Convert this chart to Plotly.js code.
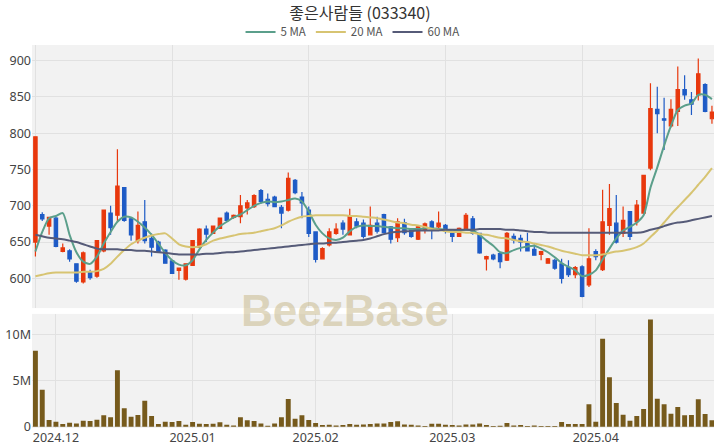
<!DOCTYPE html>
<html>
<head>
<meta charset="utf-8">
<script src="https://cdn.plot.ly/plotly-3.0.1.min.js"></script>
<style>html,body{margin:0;padding:0;background:#fff;}#chart{width:720px;height:448px;}</style>
</head>
<body>
<div id="chart"></div>
<script>
const dates = [
'2024-11-27','2024-11-28','2024-11-29',
'2024-12-02','2024-12-03','2024-12-04','2024-12-05','2024-12-06','2024-12-09','2024-12-10','2024-12-11','2024-12-12','2024-12-13','2024-12-16','2024-12-17','2024-12-18','2024-12-19','2024-12-20','2024-12-23','2024-12-24','2024-12-26','2024-12-27','2024-12-30',
'2025-01-02','2025-01-03','2025-01-06','2025-01-07','2025-01-08','2025-01-09','2025-01-10','2025-01-13','2025-01-14','2025-01-15','2025-01-16','2025-01-17','2025-01-20','2025-01-21','2025-01-22','2025-01-23','2025-01-24','2025-01-31',
'2025-02-03','2025-02-04','2025-02-05','2025-02-06','2025-02-07','2025-02-10','2025-02-11','2025-02-12','2025-02-13','2025-02-14','2025-02-17','2025-02-18','2025-02-19','2025-02-20','2025-02-21','2025-02-24','2025-02-25','2025-02-26','2025-02-27','2025-02-28',
'2025-03-03','2025-03-04','2025-03-05','2025-03-06','2025-03-07','2025-03-10','2025-03-11','2025-03-12','2025-03-13','2025-03-14','2025-03-17','2025-03-18','2025-03-19','2025-03-20','2025-03-21','2025-03-24','2025-03-25','2025-03-26','2025-03-27','2025-03-28','2025-03-31',
'2025-04-01','2025-04-02','2025-04-03','2025-04-04','2025-04-07','2025-04-08','2025-04-09','2025-04-10','2025-04-11','2025-04-14','2025-04-15','2025-04-16','2025-04-17','2025-04-18','2025-04-21','2025-04-22','2025-04-23','2025-04-24'
];
const openP = [650,688,672,683,637,638,620,595,609,603,638,690,687,725,682,652,678,655,650,639,624,611,599,618,643,668,662,669,690,684,
685,697,699,721,709,712,698,694,735,712,694,664,627,646,662,676,660,678,676,660,676,688,671,656,677,667,654,666,678,671,
673,662,658,669,682,662,627,632,634,625,658,655,648,640,633,621,625,620,615,605,616,591,637,612,673,676,662,692,678,690,
752,833,820,810,830,860,846,853,867,820];
const highP = [795,691,685,685,648,640,621,637,612,653,694,700,778,726,684,692,708,662,652,640,625,615,621,653,669,673,673,684,692,688,
715,708,716,723,717,714,701,746,737,719,699,665,643,669,676,680,696,683,681,699,685,689,672,683,682,669,672,677,680,692,
675,664,670,690,686,663,631,634,635,664,662,660,663,647,638,628,627,627,625,617,618,669,640,722,730,715,699,693,708,742,
869,864,849,847,892,880,857,903,869,838];
const lowP = [630,679,660,643,636,623,594,593,598,601,636,660,678,678,652,648,648,630,636,620,606,598,597,617,642,650,661,668,679,682,
676,688,697,703,699,698,669,692,716,683,657,622,626,644,660,660,659,669,655,659,662,662,648,650,660,656,653,662,654,669,
662,650,657,668,660,634,611,625,614,624,648,637,637,631,625,620,612,593,602,600,574,588,625,610,660,648,657,653,673,688,
749,800,777,808,810,846,825,845,829,813];
const closeP = [795,682,684,644,642,627,596,635,601,652,694,670,727,680,660,673,652,643,637,621,607,614,620,652,668,661,672,683,680,687,
700,704,714,706,703,699,690,738,718,704,662,626,641,664,668,668,685,672,658,673,665,663,654,678,663,658,671,675,669,676,
665,658,669,687,662,635,630,627,623,662,653,650,638,632,637,627,614,600,605,615,575,627,630,678,696,650,680,658,701,742,
834,827,818,833,860,853,840,882,830,829];
const volume = [8.2,4.0,0.72,0.54,0.29,0.43,0.36,0.65,0.61,0.76,1.23,1.01,6.1,1.99,1.08,1.26,2.8,1.16,0.29,0.54,0.5,0.61,0.22,0.5,0.32,0.29,0.32,0.47,0.22,0.14,
1.01,0.69,0.61,0.36,0.11,0.36,1.01,3.0,0.87,1.23,0.72,0.4,0.18,0.22,0.14,0.18,0.29,0.22,0.25,0.29,0.36,0.36,0.5,0.58,0.25,0.22,0.14,0.07,0.32,0.32,
0.22,0.18,0.14,0.25,0.25,0.36,0.18,0.07,0.11,0.4,0.14,0.18,0.07,0.14,0.07,0.07,0.07,0.5,0.29,0.29,0.29,2.42,0.54,9.5,5.34,2.56,1.3,0.65,1.16,1.91,
11.6,3.03,2.42,1.41,2.13,1.23,1.26,2.96,1.37,0.69].map(v => v * 1e6);
const ma5 = [637,664,683,686,690,660,636,623,620,630,648,664,678,685,684,678,670,660,648,635,625,619,618,625,640,653,663,672,678,684,
688,694,700,704,706,705,706,708,710,706,692,674,662,655,653,656,665,671,673,672,672,671,670,669,669,668,668,669,669,668,
667,665,666,667,666,660,652,645,636,635,639,642,644,645,641,636,629,621,616,611,603,605,611,626,641,655,666,671,677,687,
725,753,783,810,832,838,841,853,853,847];
const ma20 = [603,605,607,608,608,608,608,609,609,610,613,620,630,639,647,652,656,659,661,662,655,647,644,643,644,647,652,655,657,659,
661,662,663,665,667,669,673,678,682,685,686,687,687,687,687,687,686,686,685,684,683,681,679,677,676,674,673,671,668,667,
665,664,664,663,663,661,660,658,656,655,653,651,650,648,646,644,641,638,636,634,632,632,632,633,635,637,638,640,643,648,
657,666,677,688,698,708,718,729,740,752];
const ma60 = [660,658,656,655,654,652,650,647,644,641,640,640,640,639,639,638,638,637,636,635,634,633,633,633,633,634,634,635,636,636,
637,638,639,640,641,642,643,644,645,646,647,648,648,649,649,650,651,652,653,655,658,661,663,664,665,665,666,666,666,666,
667,667,667,667,667,668,668,668,668,667,667,666,665,664,664,663,663,663,663,663,663,663,663,663,663,663,663,663,663,664,
667,669,672,675,677,678,680,682,684,686];
const monthTickIdx = [3,23,41,61,82];
const monthTickText = ['2024.12','2025.01','2025.02','2025.03','2025.04'];
const topGridIdx = [0,20,40,60,80];
const priceTicks = [600,650,700,750,800,850,900];
const volTicks = [0,5e6,10e6];
const volTickText = ['0','5M','10M'];

const UP = '#e8380d', DOWN = '#1e5bc6';
const GRID = '#e1e1e1';
const tickFont = {family: 'Noto Sans, DejaVu Sans, sans-serif', size: 12.5, color: '#444'};

const traces = [
  {type: 'candlestick', x: dates, open: openP, high: highP, low: lowP, close: closeP,
   xaxis: 'x', yaxis: 'y', showlegend: false, hoverinfo: 'skip', whiskerwidth: 0,
   increasing: {line: {color: UP, width: 1.2}, fillcolor: UP},
   decreasing: {line: {color: DOWN, width: 1.2}, fillcolor: DOWN}},
  {type: 'scatter', mode: 'lines', x: dates, y: ma5, name: '5 MA', xaxis: 'x', yaxis: 'y',
   line: {color: '#5b9f8b', width: 2, shape: 'spline', smoothing: 0.7}},
  {type: 'scatter', mode: 'lines', x: dates, y: ma20, name: '20 MA', xaxis: 'x', yaxis: 'y',
   line: {color: '#d7c472', width: 2, shape: 'spline', smoothing: 0.7}},
  {type: 'scatter', mode: 'lines', x: dates, y: ma60, name: '60 MA', xaxis: 'x', yaxis: 'y',
   line: {color: '#565b78', width: 2, shape: 'spline', smoothing: 0.7}},
  {type: 'bar', x: dates, y: volume, xaxis: 'x2', yaxis: 'y2', showlegend: false,
   marker: {color: '#765a1c', line: {width: 0}}, hoverinfo: 'skip'}
];

const layout = {
  width: 720, height: 448,
  margin: {l: 32, r: 6, t: 45, b: 20, pad: 0},
  paper_bgcolor: '#ffffff', plot_bgcolor: '#f2f2f2',
  title: {text: '좋은사람들 (033340)', x: 0.5, xanchor: 'center', y: 0.969, yanchor: 'middle',
          font: {family: 'Noto Sans CJK KR, sans-serif', size: 16, color: '#333'}},
  showlegend: true,
  legend: {orientation: 'h', x: 0.47, xanchor: 'center', y: 1.034, yanchor: 'middle',
           font: {family: 'Noto Sans CJK KR, sans-serif', size: 11.5, color: '#555'},
           bgcolor: 'rgba(0,0,0,0)', itemwidth: 30, tracegroupgap: 0},
  bargap: 0.28,
  xaxis: {type: 'category', domain: [0, 1], anchor: 'y', range: [-0.5, 99.3],
          rangeslider: {visible: false}, showticklabels: false,
          tickmode: 'array', tickvals: topGridIdx.map(i => dates[i]),
          showgrid: true, gridcolor: GRID, gridwidth: 1, zeroline: false, showline: false, ticks: ''},
  xaxis2: {type: 'category', domain: [0, 1], anchor: 'y2', range: [-0.5, 99.3],
           tickmode: 'array', tickvals: monthTickIdx.map(i => dates[i]), ticktext: monthTickText,
           showgrid: true, gridcolor: GRID, gridwidth: 1, zeroline: false, showline: false, ticks: '',
           tickfont: tickFont, tickangle: 0},
  yaxis: {domain: [0.313, 1], anchor: 'x', range: [559, 921.6],
          tickmode: 'array', tickvals: priceTicks, showgrid: true, gridcolor: GRID,
          zeroline: false, showline: false, ticks: '', tickfont: tickFont},
  yaxis2: {domain: [0, 0.298], anchor: 'x2', range: [-0.14e6, 12.2e6],
           tickmode: 'array', tickvals: volTicks, ticktext: volTickText, showgrid: true, gridcolor: GRID,
           zeroline: false, showline: false, ticks: '', tickfont: tickFont},
  annotations: [
    {text: '<b>BeezBase</b>', xref: 'paper', yref: 'paper', x: 0.459, y: 0.308,
     xanchor: 'center', yanchor: 'middle', showarrow: false,
     font: {family: 'Liberation Sans, Arial, sans-serif', size: 44, color: 'rgba(200,185,140,0.55)'}}
  ]
};

Plotly.newPlot('chart', traces, layout, {displayModeBar: false, staticPlot: true});
</script>
</body>
</html>
